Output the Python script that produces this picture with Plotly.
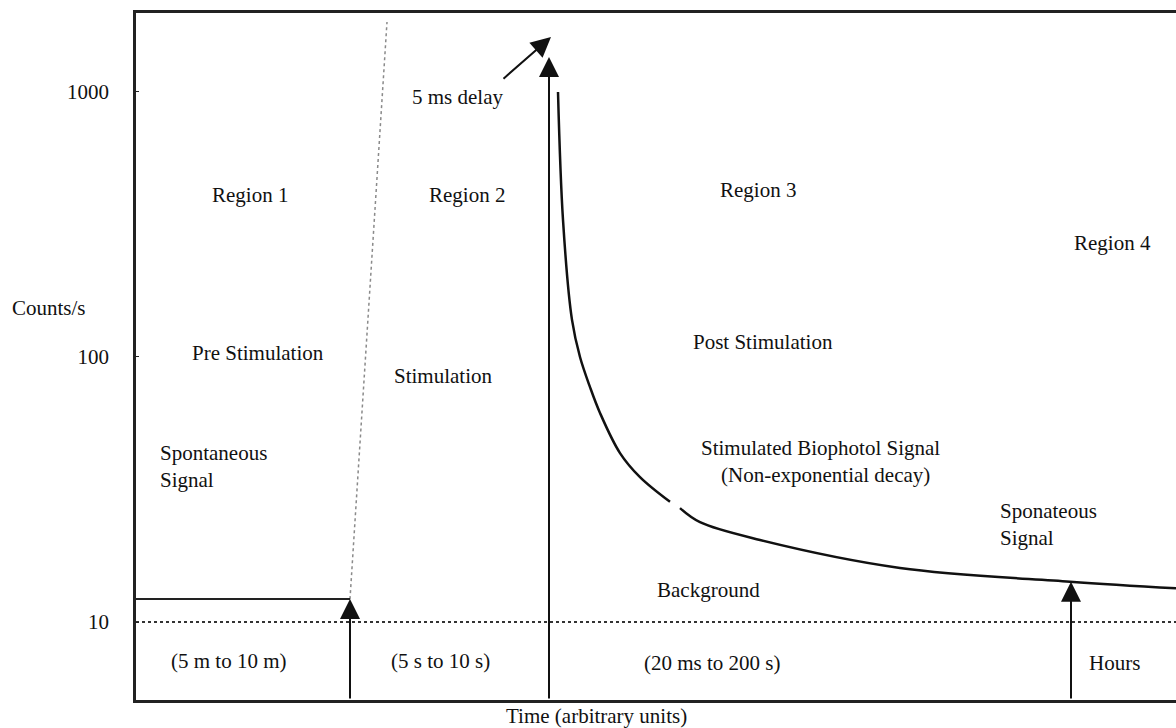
import numpy as np
import plotly.graph_objects as go

# ---- data (arbitrary time units, counts/s) ----
decay_time = [42.2, 42.7, 43.6, 44.4, 45.4, 46.4, 48.4, 50.4, 53.4, None, 54.4, 56.4, 62.4, 76.4, 93.4, 104]
decay_counts = [1000, 329, 138, 100, 77, 61.5, 43.4, 35.2, 28.4, None, 26.9, 23.8, 20.4, 16.0, 14.2, 13.4]

pre_time = [0, 21.4]
pre_counts = [12.2, 12.2]

background_time = [0, 104]
background_counts = [10, 10]

onset_time = [21.4, 25.1]
onset_counts = [12.2, 1837]

arrow_x = [21.4, 41.3, 93.5]
arrow_tip = [12.2, 1355, 14.2]

delay_tail = (36.6, 1110)
delay_tip = (41.5, 1613)

y_ticks = [10, 100, 1000]
x_range = [0, 104]
y_range_log = [0.7057, 3.298]

# labels: (text, x, counts, anchor)
labels = [
    ("Region 1", 11.4, 10**2.611, "center"),
    ("Region 2", 33.1, 10**2.611, "center"),
    ("Region 3", 62.2, 10**2.630, "center"),
    ("Region 4", 97.6, 10**2.430, "center"),
    ("5 ms delay", 32.1, 10**2.981, "center"),
    ("Pre Stimulation", 12.2, 10**2.015, "center"),
    ("Stimulation", 30.7, 10**1.928, "center"),
    ("Post Stimulation", 62.7, 10**2.057, "center"),
    ("Stimulated Biophotol Signal", 68.4, 10**1.657, "center"),
    ("(Non-exponential decay)", 68.9, 10**1.555, "center"),
    ("Spontaneous", 2.2, 10**1.638, "left"),
    ("Signal", 2.2, 10**1.536, "left"),
    ("Sponateous", 86.2, 10**1.419, "left"),
    ("Signal", 86.2, 10**1.317, "left"),
    ("Background", 57.2, 10**1.121, "center"),
    ("(5 m to 10 m)", 9.3, 10**0.853, "center"),
    ("(5 s to 10 s)", 30.4, 10**0.853, "center"),
    ("(20 ms to 200 s)", 57.6, 10**0.845, "center"),
    ("Hours", 97.8, 10**0.845, "center"),
]

FONT = "Liberation Serif, Times New Roman, serif"
INK = "#111111"
FS = 21

fig = go.Figure()

fig.add_trace(go.Scatter(x=background_time, y=background_counts, mode="lines",
                         line=dict(color="#333333", width=2, dash="dot"),
                         hoverinfo="skip", showlegend=False))
fig.add_trace(go.Scatter(x=onset_time, y=onset_counts, mode="lines",
                         line=dict(color="#8a8a8a", width=1.5, dash="dot"),
                         hoverinfo="skip", showlegend=False))
fig.add_trace(go.Scatter(x=pre_time, y=pre_counts, mode="lines",
                         line=dict(color="#222222", width=2),
                         hoverinfo="skip", showlegend=False))
fig.add_trace(go.Scatter(x=decay_time, y=decay_counts, mode="lines",
                         line=dict(color="#111111", width=2.5, shape="spline", smoothing=1.0),
                         connectgaps=False, hoverinfo="skip", showlegend=False))

ymin = 10 ** y_range_log[0]
for ax_, tip in zip(arrow_x, arrow_tip):
    fig.add_annotation(x=ax_, y=np.log10(tip), ax=ax_, ay=np.log10(ymin),
                       xref="x", yref="y", axref="x", ayref="y",
                       showarrow=True, arrowhead=2, arrowsize=2.0, arrowwidth=2,
                       arrowcolor="#111111", standoff=0, text="")

fig.add_annotation(x=delay_tip[0], y=np.log10(delay_tip[1]),
                   ax=delay_tail[0], ay=np.log10(delay_tail[1]),
                   xref="x", yref="y", axref="x", ayref="y",
                   showarrow=True, arrowhead=2, arrowsize=2.0, arrowwidth=2,
                   arrowcolor="#111111", standoff=0, text="")

for text, lx, ly, anchor in labels:
    fig.add_annotation(x=lx, y=np.log10(ly), xref="x", yref="y", text=text,
                       showarrow=False, xanchor=anchor, yanchor="middle",
                       font=dict(family=FONT, size=FS, color=INK))

# axis titles placed as free text
fig.add_annotation(x=-(136 - 49) / 1040, y=(700 - 308) / 687, xref="paper", yref="paper",
                   text="Counts/s", showarrow=False, xanchor="center", yanchor="middle",
                   font=dict(family=FONT, size=FS, color=INK))
fig.add_annotation(x=(596 - 136) / 1040, y=-(716 - 700) / 687, xref="paper", yref="paper",
                   text="Time (arbitrary units)", showarrow=False, xanchor="center", yanchor="middle",
                   font=dict(family=FONT, size=FS, color=INK))

fig.update_layout(
    width=1176, height=728,
    margin=dict(l=136, r=0, t=13, b=28, autoexpand=False),
    paper_bgcolor="white", plot_bgcolor="white",
    showlegend=False,
    xaxis=dict(range=x_range, showgrid=False, zeroline=False, showticklabels=False,
               automargin=False,
               ticks="", showline=True, mirror=True, linecolor="#222222", linewidth=2.5),
    yaxis=dict(type="log", range=y_range_log, showgrid=False, zeroline=False,
               automargin=False,
               tickvals=y_ticks, ticktext=[str(v) for v in y_ticks],
               ticks="inside", ticklen=3, tickcolor="#222222",
               ticklabelstandoff=20,
               tickfont=dict(family=FONT, size=FS, color=INK),
               showline=True, mirror=False, linecolor="#222222", linewidth=2.5),
)

fig.write_html("out.html", config={"displayModeBar": False},
               post_script="document.body.style.margin='0';document.body.style.overflow='hidden';")
